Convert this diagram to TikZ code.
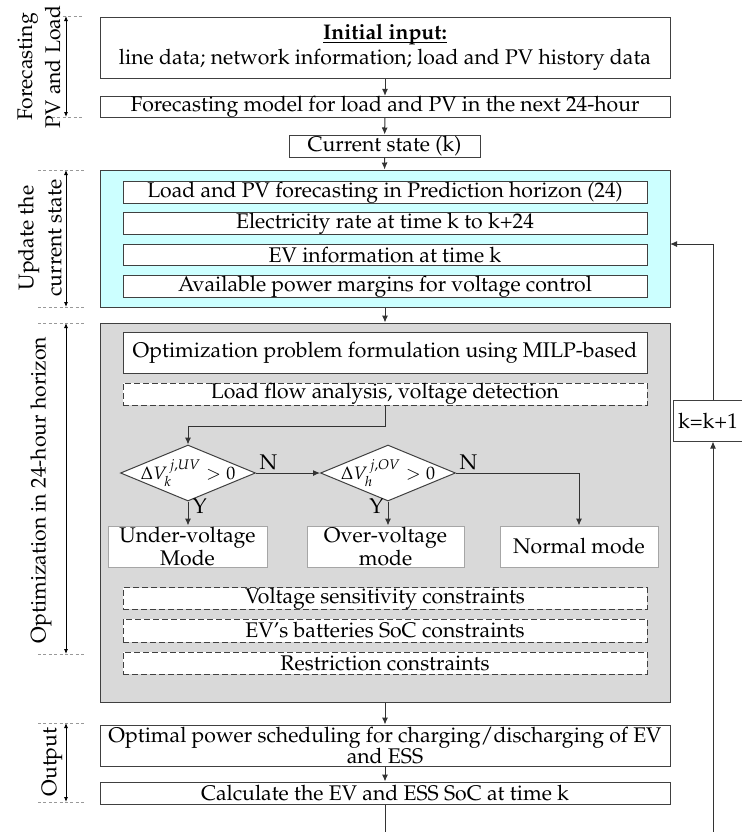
\documentclass[tikz,border=0pt]{standalone}
\usepackage[T1]{fontenc}
\usepackage{mathpazo}
\usepackage{tikz}
\usetikzlibrary{positioning,calc}
\usetikzlibrary{shapes.geometric,arrows.meta}
\definecolor{updcyan}{HTML}{CCFFFF}
\definecolor{optgrey}{HTML}{D9D9D9}

\begin{document}
\begin{tikzpicture}[x=0.5pt,y=-0.5pt,
    font=\fontsize{10.6}{11.5}\selectfont,
    box/.style={draw=black!75, line width=0.5pt, fill=white, inner sep=0pt,
      minimum width=285pt, minimum height=10.5pt, align=center},
    inbox/.style={box, minimum width=262pt},
    dbox/.style={inbox, dashed, dash pattern=on 3pt off 1.5pt},
    modebox/.style={draw=black!35, line width=0.5pt, fill=white, inner sep=0pt,
      minimum height=20.5pt, align=center, font=\fontsize{10.6}{10.5}\selectfont},
    decide/.style={diamond, draw=black!75, line width=0.5pt, fill=white,
      inner sep=0pt, minimum width=67.5pt, minimum height=28pt},
    dlabel/.style={font=\fontsize{9}{10}\selectfont},
    arr/.style={-{Latex[length=3.5pt,width=3pt]}, line width=0.5pt, draw=black!80},
    span/.style={{Latex[length=2.5pt,width=2pt]}-{Latex[length=2.5pt,width=2pt]}, line width=0.4pt},
    guide/.style={draw=black!40, line width=0.3pt, dash pattern=on 1.5pt off 1.2pt}]

    \useasboundingbox (0,0) rectangle (741,832);

    % side spans
    \foreach \ya/\yb/\xa in {16/117/52, 170/307/38, 323/654/38, 723/802/38} {
      \draw[guide] (\xa,\ya) -- (84,\ya);
      \draw[guide] (\xa,\yb) -- (84,\yb);
      \draw[span] (66,\ya) -- (66,\yb);
    }
    \node[rotate=90, align=center, font=\fontsize{10.6}{14}\selectfont] (labfc) at (39,67) {Forecasting\\PV and Load};
    \node[rotate=90, align=center, font=\fontsize{10.6}{14}\selectfont] (labup) at (40,238) {Update the\\current state};
    \node[rotate=90] (labopt) at (41,490) {Optimization in 24-hour horizon};
    \node[rotate=90] (labout) at (52,762) {Output};

    % forecasting part
    \node[box, minimum height=30.5pt, font=\fontsize{10.6}{12.5}\selectfont] (init) at (385,47.5)
      {\textbf{\underline{\smash{Initial input:}}\vphantom{I}}\\line data; network information; load and PV history data};
    \node[box, minimum height=10pt] (fcast) at (385,107) {Forecasting model for load and PV in the next 24-hour};
    \node[box, minimum width=95.5pt, minimum height=11pt] (cur) at (384.5,146) {Current state (k)};

    % update the current state
    \node[box, fill=updcyan, minimum height=68.5pt] (upd) at (385,238.5) {};
    \node[inbox] (u1) at (385,192.5) {Load and PV forecasting in Prediction horizon (24)};
    \node[inbox] (u2) at (385,223.5) {Electricity rate at time k to k+24};
    \node[inbox] (u3) at (385,255) {EV information at time k};
    \node[inbox] (u4) at (385,286.5) {Available power margins for voltage control};

    % optimization block
    \node[box, fill=optgrey, minimum height=189.5pt] (opt) at (385,512.5) {};
    \node[inbox, minimum height=20.5pt] (milp) at (385,352.5) {Optimization problem formulation using MILP-based};
    \node[dbox, minimum height=11pt] (lf) at (385,394) {Load flow analysis, voltage detection};
    \node[decide, label={[dlabel]center:$\Delta V_k^{\,j,UV} > 0$}] (d1) at (188,473) {};
    \node[decide, label={[dlabel]center:$\Delta V_h^{\,j,OV} > 0$}] (d2) at (388,473) {};
    \node[modebox, minimum width=79.5pt] (uv) at (187.5,546.5) {Under-voltage\\Mode};
    \node[modebox, minimum width=78.5pt] (ov) at (385.5,546.5) {Over-voltage\\mode};
    \node[modebox, minimum width=79pt] (nm) at (579,546.5) {Normal mode};
    \node[dbox] (vs) at (385,598.5) {Voltage sensitivity constraints};
    \node[dbox, minimum height=11.5pt] (ev) at (385,630.5) {EV'{}s batteries SoC constraints};
    \node[dbox, minimum height=11pt] (rc) at (385,663) {Restriction constraints};

    % output
    \node[box, minimum height=20.5pt, font=\fontsize{10.6}{10.8}\selectfont] (out1) at (385,745.5)
      {Optimal power scheduling for charging/discharging of EV\\and ESS};
    \node[box, minimum height=11pt] (out2) at (385,793) {Calculate the EV and ESS SoC at time k};

    % feedback box
    \node[box, minimum width=35pt, minimum height=20.5pt] (kk) at (708,420.5) {k=k+1};

    % main flow
    \draw[arr] (init) -- (fcast);
    \draw[arr] (fcast) -- (cur);
    \draw[arr] (cur) -- (upd);
    \draw[arr] (upd) -- (opt);
    \coordinate (lfturn) at (385,426);
    \draw[arr] (lf.south) -- (lfturn) -| (d1.north);
    \draw[arr] (d1.east) -- node[pos=0, above right, inner sep=1.5pt] {N} (d2.west);
    \draw[arr] (d2.east) -| node[pos=0, above right, inner sep=1.5pt] {N} (nm.north);
    \draw[arr] (d1.south) -- node[pos=0.2, right, inner sep=2pt] {Y} (d1.south |- uv.north);
    \draw[arr] (d2.south) -- node[pos=0.2, left, inner sep=2pt] {Y} (d2.south |- ov.north);
    \draw[arr] (opt) -- (out1);
    \draw[arr] (out1) -- (out2);

    % loop back
    \coordinate (endL) at (385,832);
    \coordinate (endR) at (713,832);
    \coordinate (fb) at (670,244);
    \draw[line width=0.5pt, black!80] (out2.south) -- (endL);
    \draw[arr] (endR) -- (endR |- kk.south);
    \draw[arr] (endR |- kk.north) |- (fb);
\end{tikzpicture}
\end{document}
